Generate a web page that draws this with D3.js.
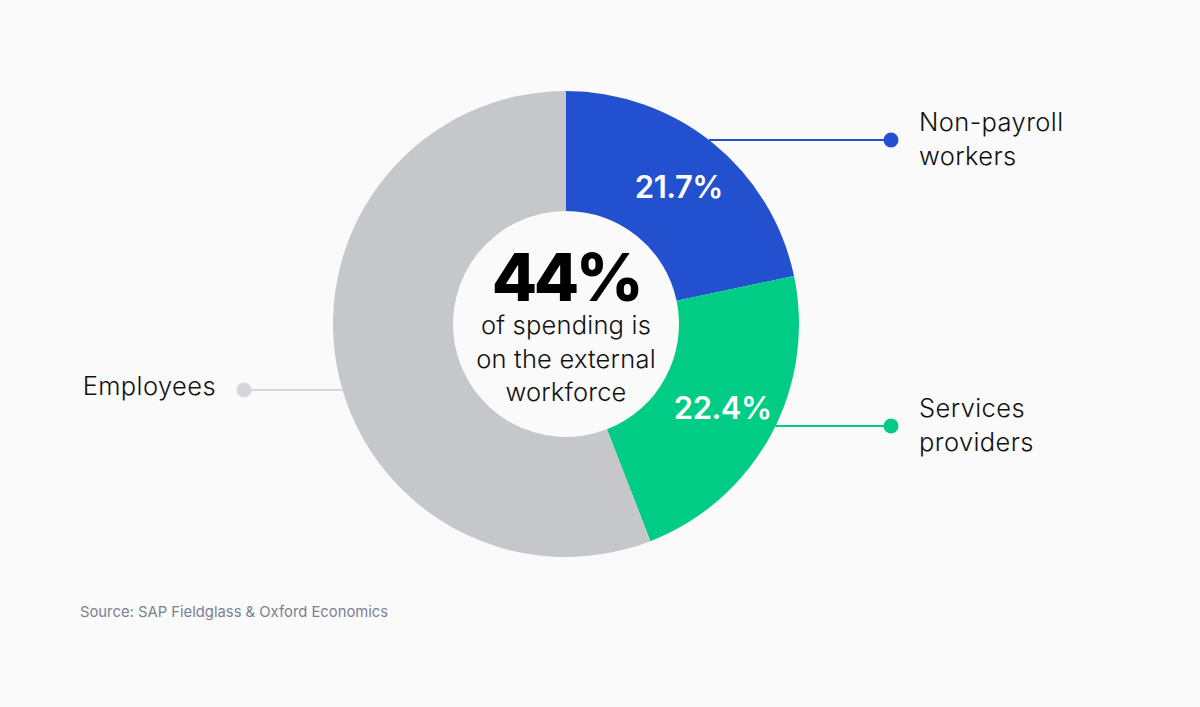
<!DOCTYPE html>
<html><head><meta charset="utf-8">
<script src="https://cdn.jsdelivr.net/npm/d3@7"></script>
<style>
html,body{margin:0;padding:0;background:#fafafa;}
svg{display:block;font-family:Inter,"Open Sans",sans-serif;}
</style></head>
<body><svg id="c" width="1200" height="707"></svg>
<script>
const categories = ["Non-payroll workers", "Services providers", "Employees"];
const values = [21.7, 22.4, 55.9];
const valueLabels = ["21.7%", "22.4%", ""];
const labelLines = [["Non-payroll", "workers"], ["Services", "providers"], ["Employees"]];
const centerBig = "44%";
const centerLines = ["of spending is", "on the external", "workforce"];
const source = "Source: SAP Fieldglass & Oxford Economics";

const colors = d3.scaleOrdinal().domain(categories).range(["#2350cf", "#00cc85", "#c6c7ca"]);
const dotColors = d3.scaleOrdinal().domain(categories).range(["#2350cf", "#00cc85", "#d6d7db"]);

const svg = d3.select("#c");
const cx = 566, cy = 324, rOut = 233, rIn = 113;
const g = svg.append("g").attr("transform", `translate(${cx},${cy})`);

const data = categories.map((c, i) => ({cat: c, v: values[i], label: valueLabels[i], lines: labelLines[i]}));
const pie = d3.pie().value(d => d.v).sort(null);
const arcs = pie(data);
const arc = d3.arc().innerRadius(rIn).outerRadius(rOut);

const leaders = [
  {dy: -184, dotX: 891 - cx, textX: 919 - cx, anchor: "start", textY: [131 - cy, 165 - cy]},
  {dy: 102, dotX: 891 - cx, textX: 919 - cx, anchor: "start", textY: [417 - cy, 451 - cy]},
  {dy: 66, dotX: 244 - cx, textX: 216 - cx, anchor: "end", textY: [395 - cy]}
];

leaders.forEach((L, i) => {
  const edge = Math.sqrt(rOut * rOut - L.dy * L.dy) * (L.dotX > 0 ? 1 : -1);
  g.append("line").attr("x1", edge).attr("x2", L.dotX).attr("y1", L.dy).attr("y2", L.dy)
    .attr("stroke", dotColors(categories[i])).attr("stroke-width", 2);
  g.append("circle").attr("cx", L.dotX).attr("cy", L.dy).attr("r", 7.5).attr("fill", dotColors(categories[i]));
  data[i].lines.forEach((t, j) => {
    g.append("text").attr("x", L.textX).attr("y", L.textY[j]).attr("text-anchor", L.anchor)
      .attr("font-size", 25.5).attr("font-weight", 300).attr("fill", "#111")
      .attr("letter-spacing", 0.4).text(t);
  });
});

g.selectAll("path.slice").data(arcs).join("path").attr("class", "slice")
  .attr("d", arc).attr("fill", d => colors(d.data.cat));

const labelArc = d3.arc().innerRadius(176).outerRadius(176);
g.selectAll("text.val").data(arcs.filter(d => d.data.label)).join("text").attr("class", "val")
  .attr("x", d => labelArc.centroid(d)[0] + 2)
  .attr("y", d => labelArc.centroid(d)[1] + 11)
  .attr("text-anchor", "middle").attr("font-size", 31).attr("font-weight", 600)
  .attr("fill", "#fff").attr("letter-spacing", -0.5).text(d => d.data.label);

g.append("text").attr("x", 0).attr("y", 301 - cy).attr("text-anchor", "middle")
  .attr("font-size", 66).attr("font-weight", 800).attr("fill", "#000").attr("letter-spacing", -3.5).text(centerBig);
centerLines.forEach((t, j) => {
  g.append("text").attr("x", 0).attr("y", 334 - cy + j * 33.5).attr("text-anchor", "middle")
    .attr("font-size", 25.5).attr("font-weight", 300).attr("fill", "#111").attr("letter-spacing", 0.2).text(t);
});

svg.append("text").attr("x", 80).attr("y", 617).attr("font-size", 14.8).attr("fill", "#7b8090").text(source);
</script></body></html>
